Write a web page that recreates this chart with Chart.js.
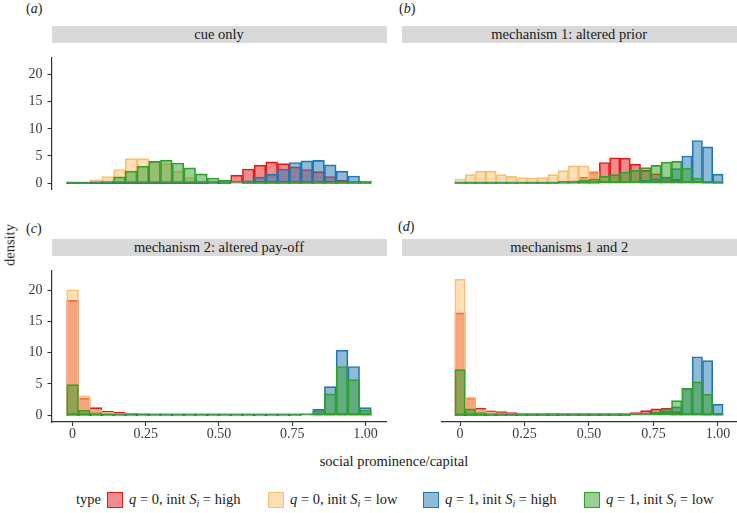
<!DOCTYPE html>
<html>
<head>
<meta charset="utf-8">
<script src="https://cdn.jsdelivr.net/npm/chart.js@4.4.0/dist/chart.umd.min.js"></script>
<style>
body { margin: 0; background: #fff; font-family: 'Liberation Serif', 'Times New Roman', Times, 'DejaVu Serif', serif; color: #1a1a1a; }
#wrap { position: relative; width: 737px; height: 513px; overflow: hidden; }
canvas, .strip, .plab, .txt, .sw { position: absolute; }
.strip { background: #d9d9d9; height: 17px; line-height: 17px; text-align: center; font-size: 14.5px; color: #1a1a1a; }
.plab { font-size: 14px; }
.txt { font-size: 14.5px; white-space: nowrap; }
.sw { width: 14px; height: 14px; border: 1.2px solid; }
sub { font-size: 70%; font-style: italic; vertical-align: -3px; line-height: 0; }
</style>
</head>
<body>
<div id="wrap">
  <div class="plab" style="left:26px; top:1px;">(<i>a</i>)</div>
  <div class="plab" style="left:399px; top:1px;">(<i>b</i>)</div>
  <div class="plab" style="left:26px; top:221px;">(<i>c</i>)</div>
  <div class="plab" style="left:398px; top:219px;">(<i>d</i>)</div>

  <div class="strip" style="left:51.5px; width:335px; top:26px;">cue only</div>
  <div class="strip" style="left:401.5px; width:335.5px; top:26px;">mechanism 1: altered prior</div>
  <div class="strip" style="left:51.5px; width:335px; top:239px;">mechanism 2: altered pay-off</div>
  <div class="strip" style="left:401.5px; width:335.5px; top:239px;">mechanisms 1 and 2</div>

  <canvas id="pa" width="390" height="175" style="left:0; top:44px;"></canvas>
  <canvas id="pb" width="339" height="175" style="left:398px; top:44px;"></canvas>
  <canvas id="pc" width="390" height="190" style="left:0; top:257px;"></canvas>
  <canvas id="pd" width="339" height="190" style="left:398px; top:257px;"></canvas>

  <div class="txt" style="left:10px; top:245px; transform: translate(-50%, -50%) rotate(-90deg);">density</div>
  <div class="txt" style="left:394px; top:461px; transform: translate(-50%, -50%);">social prominence/capital</div>

  <div id="legend"></div>
</div>
<script>
// histogram bins (centres), shared by all panels
const binCenters = [0, 0.04, 0.08, 0.12, 0.16, 0.20, 0.24, 0.28, 0.32, 0.36, 0.40, 0.44, 0.48,
                    0.52, 0.56, 0.60, 0.64, 0.68, 0.72, 0.76, 0.80, 0.84, 0.88, 0.92, 0.96, 1.00];
const xTickValues = [0, 0.25, 0.5, 0.75, 1];
const xTickLabels = ['0', '0.25', '0.50', '0.75', '1.00'];
const yTickValues = [0, 5, 10, 15, 20];
const seriesNames = ['q = 0, init Si = high', 'q = 0, init Si = low', 'q = 1, init Si = high', 'q = 1, init Si = low'];

// (a) cue only
const cueRed    = [0, 0, 0, 0, 0, 0, 0, 0, 0, 0, 0, 0, 0.05, 0.45, 1.45, 2.6, 3.3, 3.9, 3.6, 3.0, 2.5, 2.1, 1.2, 0.5, 0.15, 0.1];
const cueOrange = [0.36, 0.15, 0.6, 1.2, 2.5, 4.5, 4.5, 3.9, 3.6, 2.2, 1.0, 0.35, 0.1, 0, 0, 0, 0, 0, 0, 0, 0, 0, 0, 0, 0, 0];
const cueBlue   = [0, 0, 0, 0, 0, 0, 0, 0, 0, 0, 0, 0, 0, 0, 0.1, 0.4, 1.1, 1.65, 2.6, 3.8, 4.1, 4.2, 3.35, 2.2, 1.3, 0.36];
const cueGreen  = [0, 0, 0.05, 0.36, 1.14, 2.2, 3.1, 4.0, 4.24, 3.7, 2.8, 1.7, 0.93, 0.5, 0.1, 0, 0, 0, 0, 0, 0, 0, 0, 0, 0, 0];

// (b) mechanism 1: altered prior
const m1Red    = [0, 0, 0, 0, 0, 0, 0, 0, 0, 0, 0.1, 0.36, 1.0, 1.9, 3.6, 4.45, 4.35, 3.3, 2.2, 1.6, 1.0, 0.6, 0.3, 0.1, 0, 0];
const m1Orange = [0.67, 1.45, 2.07, 2.07, 1.45, 1.14, 0.93, 0.83, 0.93, 1.45, 2.17, 3.0, 3.0, 2.1, 0.9, 0.4, 0.2, 0.1, 0, 0, 0, 0, 0, 0, 0, 0];
const m1Blue   = [0, 0, 0, 0, 0, 0, 0, 0, 0, 0, 0, 0, 0, 0, 0.1, 0.2, 0.2, 0.3, 0.5, 0.7, 1.0, 2.5, 4.75, 7.5, 6.36, 1.55];
const m1Green  = [0, 0, 0, 0, 0, 0, 0, 0, 0, 0, 0.05, 0.1, 0.5, 0.67, 1.14, 1.45, 1.9, 2.2, 2.7, 3.1, 3.67, 3.8, 2.6, 0.83, 0.1, 0];

// (c) mechanism 2: altered pay-off
const m2Red    = [18.4, 2.7, 1.2, 0.62, 0.47, 0.3, 0.25, 0.2, 0.15, 0.13, 0.12, 0.1, 0.1, 0.08, 0.08, 0.06, 0.06, 0.05, 0.05, 0.04, 0.03, 0, 0, 0, 0, 0];
const m2Orange = [20.1, 3.1, 0.9, 0.45, 0.3, 0.2, 0.15, 0.1, 0.08, 0.05, 0.04, 0.03, 0.02, 0.02, 0.02, 0.02, 0.02, 0.02, 0.02, 0.02, 0, 0, 0, 0, 0, 0];
const m2Blue   = [0, 0, 0, 0, 0, 0, 0, 0, 0, 0, 0, 0, 0, 0, 0, 0, 0, 0, 0, 0, 0.1, 0.93, 4.56, 10.4, 7.8, 1.2];
const m2Green  = [4.9, 0.78, 0.36, 0.15, 0.1, 0.05, 0.04, 0.03, 0.03, 0.02, 0.02, 0.02, 0.02, 0.02, 0.02, 0.02, 0.02, 0.03, 0.04, 0.05, 0.2, 0.67, 3.4, 7.8, 5.7, 0.83];

// (d) mechanisms 1 and 2
const m12Red    = [15.8, 2.6, 1.0, 0.62, 0.52, 0.36, 0.22, 0.18, 0.15, 0.12, 0.1, 0.1, 0.1, 0.1, 0.1, 0.12, 0.2, 0.36, 0.67, 0.93, 1.0, 0.5, 0.2, 0.05, 0, 0];
const m12Orange = [21.0, 2.75, 0.83, 0.47, 0.3, 0.2, 0.1, 0.08, 0.05, 0.04, 0.03, 0.02, 0.02, 0.02, 0.02, 0.03, 0.04, 0.05, 0.06, 0.05, 0.03, 0, 0, 0, 0, 0];
const m12Blue   = [0, 0, 0, 0, 0, 0, 0, 0, 0, 0, 0, 0, 0, 0, 0, 0, 0, 0.05, 0.2, 0.3, 0.5, 1.25, 4.1, 9.0, 8.4, 1.66];
const m12Green  = [7.0, 0.93, 0.36, 0.15, 0.1, 0.06, 0.05, 0.04, 0.03, 0.02, 0.02, 0.02, 0.02, 0.02, 0.02, 0.03, 0.05, 0.1, 0.2, 0.4, 0.93, 2.2, 4.15, 5.1, 3.2, 0.25];

const lineColors = ['#e31a1c', '#fdbf6f', '#1f78b4', '#33a02c'];
const fillColors = ['rgba(227,26,28,0.5)', 'rgba(253,191,111,0.5)', 'rgba(31,120,180,0.5)', 'rgba(51,160,44,0.5)'];
const serif = "'Liberation Serif', 'Times New Roman', Times, 'DejaVu Serif', serif";

function drawPanel(id, series, showY, showX, pad) {
    new Chart(document.getElementById(id), {
        type: 'bar',
        data: {
            datasets: series.map((vals, k) => ({
                label: seriesNames[k],
                data: vals.map((v, i) => ({ x: binCenters[i], y: v })),
                backgroundColor: fillColors[k],
                borderColor: lineColors[k],
                borderWidth: 1,
                borderSkipped: false,
                minBarLength: 1.4,
                grouped: false,
                barPercentage: 1,
                categoryPercentage: 1,
                order: 4 - k   // green drawn last, on top
            }))
        },
        options: {
            responsive: false,
            animation: false,
            devicePixelRatio: 1,
            layout: { padding: pad },
            plugins: { legend: { display: false }, tooltip: { enabled: false } },
            scales: {
                x: {
                    type: 'linear', min: -0.072, max: 1.072, offset: false, display: showX,
                    grid: { display: true, drawOnChartArea: false, drawTicks: true, tickLength: 4, tickColor: '#333', tickWidth: 1.1, offset: false },
                    border: { display: true, color: '#333', width: 1.2 },
                    ticks: {
                        font: { family: serif, size: 14 }, color: '#3a3a3a', padding: 0,
                        maxRotation: 0, autoSkip: false,
                        callback: (v, i) => xTickLabels[i]
                    },
                    afterBuildTicks: s => { s.ticks = xTickValues.map(v => ({ value: v })); },
                    afterFit: s => { s.height = 20; }
                },
                y: {
                    min: -1.1, max: 23.2, display: showY,
                    grid: { display: true, drawOnChartArea: false, drawTicks: true, tickLength: 4, tickColor: '#333', tickWidth: 1.1 },
                    border: { display: true, color: '#333', width: 1.2 },
                    ticks: { font: { family: serif, size: 14 }, color: '#3a3a3a', padding: 5 },
                    afterBuildTicks: s => { s.ticks = yTickValues.map(v => ({ value: v })); },
                    afterFit: s => { s.width = 40; }
                }
            }
        }
    });
}

drawPanel('pa', [cueRed, cueOrange, cueBlue, cueGreen], true, false, { left: 11.5, right: 3.5, top: 8, bottom: 10 });
drawPanel('pb', [m1Red, m1Orange, m1Blue, m1Green], false, false, { left: 3.5, right: 0.5, top: 8, bottom: 10 });
drawPanel('pc', [m2Red, m2Orange, m2Blue, m2Green], true, true, { left: 11.5, right: 3.5, top: 8, bottom: 5 });
drawPanel('pd', [m12Red, m12Orange, m12Blue, m12Green], false, true, { left: 3.5, right: 0.5, top: 8, bottom: 5 });

// legend (HTML, so that the italic q and subscript i can be set)
const legendSwatchX = [107, 268, 423, 584];
const legendQ = ['0', '0', '1', '1'];
const legendLevel = ['high', 'low', 'high', 'low'];
let html = '<div class="txt" style="left:76px; top:491px;">type</div>';
for (let k = 0; k < 4; k++) {
    html += `<div class="sw" style="left:${legendSwatchX[k]}px; top:492px; background:${fillColors[k]}; border-color:${lineColors[k]};"></div>`;
    html += `<div class="txt" style="left:${legendSwatchX[k] + 22}px; top:491px;"><i>q</i> = ${legendQ[k]}, init <i>S</i><sub>i</sub> = ${legendLevel[k]}</div>`;
}
document.getElementById('legend').innerHTML = html;
</script>
</body>
</html>
